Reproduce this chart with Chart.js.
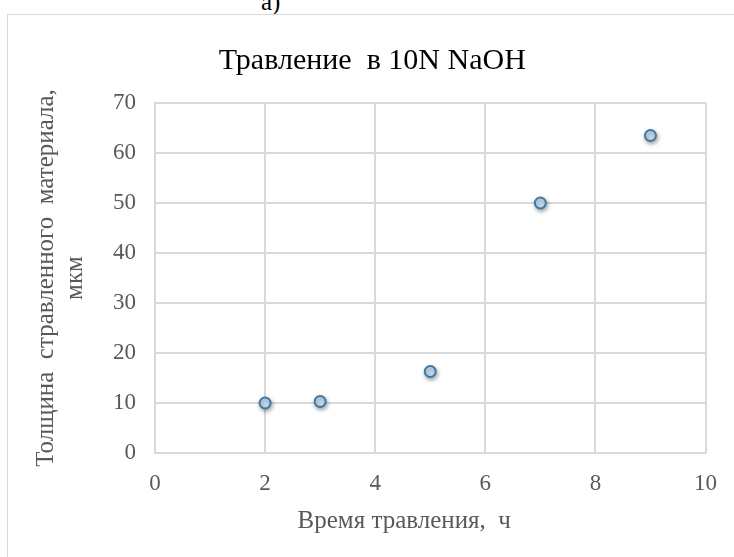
<!DOCTYPE html>
<html>
<head>
<meta charset="utf-8">
<script src="https://cdn.jsdelivr.net/npm/chart.js@4.4.1/dist/chart.umd.min.js"></script>
<style>
  html, body { margin: 0; padding: 0; background: #fff; overflow: hidden; }
  #wrap { position: relative; width: 734px; height: 557px; }
  #frame { position: absolute; left: 7px; top: 14px; width: 740px; height: 560px; border: 1px solid #d9d9d9; }
  #label { position: absolute; left: 261px; top: -12px; font: 25px "Liberation Serif", serif; color: #000; }
  #myChart { position: absolute; left: 0; top: 0; }
</style>
</head>
<body>
<div id="wrap">
  <div id="label">а)</div>
  <div id="frame"></div>
  <canvas id="myChart" width="734" height="557"></canvas>
</div>
<script>
// Data
const timeHours = [2, 3, 5, 7, 9];
const thickness = [10, 10.3, 16.3, 50, 63.5];

const chartTitle = 'Травление  в 10N NaOH';
const xTitle = 'Время травления,  ч';
const yTitle = ['Толщина  стравленного  материала,', 'мкм'];

const serif = '"Liberation Serif", "Times New Roman", serif';
const gray = '#595959';
const gridGray = '#d9d9d9';

// soft shadow under the markers
const shadowPlugin = {
    id: 'markerShadow',
    beforeDatasetDraw(chart) {
        const c = chart.ctx;
        c.save();
        c.shadowColor = 'rgba(0,0,0,0.35)';
        c.shadowBlur = 4;
        c.shadowOffsetX = 1;
        c.shadowOffsetY = 2;
    },
    afterDatasetDraw(chart) {
        chart.ctx.restore();
    }
};

// chart title and x axis title are a bit left of the plot centre in the original
const textPlugin = {
    id: 'extraText',
    afterDraw(chart) {
        const c = chart.ctx;
        const area = chart.chartArea;
        const mid = (area.left + area.right) / 2;
        c.save();
        c.textAlign = 'center';
        c.textBaseline = 'alphabetic';
        c.font = '30px ' + serif;
        c.fillStyle = '#000';
        c.fillText(chartTitle, mid - 58, 69);
        c.font = '25px ' + serif;
        c.fillStyle = gray;
        c.fillText(xTitle, mid - 26, 528);
        c.restore();
    }
};

new Chart(document.getElementById('myChart').getContext('2d'), {
    type: 'scatter',
    data: {
        datasets: [{
            label: 'Толщина',
            data: timeHours.map((t, i) => ({ x: t, y: thickness[i] })),
            pointRadius: 5.5,
            pointBackgroundColor: '#c9ddef',
            pointBorderColor: '#3c7aa3',
            pointBorderWidth: 2
        }]
    },
    plugins: [shadowPlugin, textPlugin],
    options: {
        responsive: false,
        animation: false,
        layout: { padding: { left: 7, top: 103, right: 28, bottom: 0 } },
        plugins: {
            legend: { display: false },
            tooltip: { enabled: false },
            title: { display: false }
        },
        scales: {
            x: {
                type: 'linear',
                min: 0,
                max: 10,
                ticks: {
                    stepSize: 2,
                    color: gray,
                    padding: 17,
                    font: { family: serif, size: 23 }
                },
                grid: { color: gridGray, lineWidth: 2, drawTicks: false },
                border: { color: gridGray, width: 2 },
                title: { display: false },
                afterFit: function(scale) { scale.height = 104; }
            },
            y: {
                min: 0,
                max: 70,
                ticks: {
                    stepSize: 10,
                    color: gray,
                    padding: 19,
                    font: { family: serif, size: 23 }
                },
                grid: { color: gridGray, lineWidth: 2, drawTicks: false },
                border: { color: gridGray, width: 2 },
                title: {
                    display: true,
                    text: yTitle,
                    color: gray,
                    font: { family: serif, size: 25, lineHeight: 1.16 },
                    padding: { top: 24.5, bottom: 0 }
                },
                afterFit: function(scale) { scale.width = 148; }
            }
        }
    }
});
</script>
</body>
</html>
